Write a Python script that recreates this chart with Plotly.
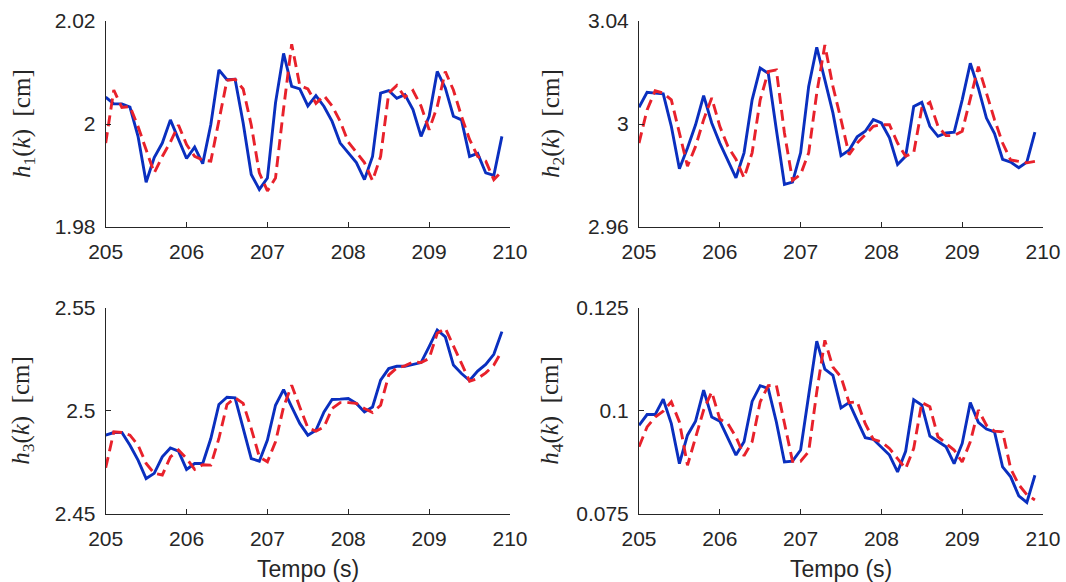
import plotly.graph_objects as go

time = [round(205 + 0.1 * i, 1) for i in range(50)]

h1_real = [2.0052, 2.0039, 2.0039, 2.0033, 1.9976, 1.9887, 1.9935, 1.9963, 2.0008, 1.9970,
           1.9933, 1.9955, 1.9923, 1.9999, 2.0105, 2.0086, 2.0087, 2.0002, 1.9902, 1.9873,
           1.9895, 2.0041, 2.0137, 2.0073, 2.0068, 2.0035, 2.0055, 2.0034, 2.0005, 1.9963,
           1.9944, 1.9925, 1.9892, 1.9937, 2.0060, 2.0065, 2.0050, 2.0057, 2.0028, 1.9976,
           2.0015, 2.0102, 2.0070, 2.0015, 2.0008, 1.9937, 1.9943, 1.9905, 1.9900, 1.9976]
h1_pred = [1.9963, 2.0066, 2.0032, 2.0034, 1.9995, 1.9950, 1.9905, 1.9937, 1.9965, 1.9998,
           1.9960, 1.9937, 1.9930, 1.9928, 2.0005, 2.0085, 2.0087, 2.0068, 1.9998, 1.9905,
           1.9870, 1.9895, 2.0030, 2.0155, 2.0075, 2.0068, 2.0040, 2.0055, 2.0035, 2.0005,
           1.9965, 1.9945, 1.9925, 1.9890, 1.9937, 2.0060, 2.0075, 2.0052, 2.0065, 2.0035,
           1.9989, 2.0034, 2.0102, 2.0066, 2.0015, 1.9970, 1.9937, 1.9928, 1.9892, 1.9908]

h2_real = [3.0065, 3.0123, 3.0120, 3.0117, 2.9991, 2.9826, 2.9907, 2.9997, 3.0110, 3.0004,
           2.9926, 2.9855, 2.9791, 2.9888, 3.0094, 3.0217, 3.0197, 2.9978, 2.9765, 2.9774,
           2.9888, 3.0146, 3.0298, 3.0171, 3.0043, 2.9877, 2.9898, 2.9950, 2.9972, 3.0017,
           3.0004, 2.9946, 2.9843, 2.9875, 3.0068, 3.0084, 2.9991, 2.9952, 2.9965, 2.9968,
           3.0094, 3.0236, 3.0139, 3.0023, 2.9963, 2.9863, 2.9852, 2.9830, 2.9852, 2.9968]
h2_pred = [2.9926, 3.0055, 3.0129, 3.0120, 3.0094, 2.9965, 2.9836, 2.9913, 3.0017, 3.0101,
           2.9991, 2.9913, 2.9863, 2.9791, 2.9888, 3.0094, 3.0204, 3.0210, 2.9965, 2.9781,
           2.9804, 2.9888, 3.0120, 3.0307, 3.0146, 3.0017, 2.9881, 2.9926, 2.9959, 2.9991,
           2.9997, 2.9997, 2.9926, 2.9875, 2.9888, 3.0062, 3.0084, 2.9991, 2.9955, 2.9955,
           2.9972, 3.0094, 3.0223, 3.0120, 3.0017, 2.9926, 2.9860, 2.9855, 2.9849, 2.9855]

h3_real = [2.4882, 2.4895, 2.4895, 2.4833, 2.4761, 2.4672, 2.4697, 2.4777, 2.4820, 2.4805,
           2.4716, 2.4745, 2.4745, 2.4866, 2.5031, 2.5066, 2.5063, 2.4914, 2.4769, 2.4756,
           2.4858, 2.5027, 2.5103, 2.5019, 2.4939, 2.4882, 2.4906, 2.4995, 2.5055, 2.5057,
           2.5060, 2.5036, 2.4995, 2.5019, 2.5149, 2.5205, 2.5216, 2.5216, 2.5225, 2.5234,
           2.5311, 2.5392, 2.5359, 2.5222, 2.5181, 2.5147, 2.5193, 2.5225, 2.5274, 2.5384]
h3_pred = [2.4724, 2.4898, 2.4895, 2.4882, 2.4834, 2.4745, 2.4697, 2.4689, 2.4777, 2.4810,
           2.4770, 2.4716, 2.4739, 2.4737, 2.4866, 2.5031, 2.5063, 2.5036, 2.4914, 2.4777,
           2.4753, 2.4850, 2.5019, 2.5124, 2.5019, 2.4918, 2.4902, 2.4922, 2.5011, 2.5040,
           2.5040, 2.5036, 2.5011, 2.4992, 2.5027, 2.5173, 2.5208, 2.5218, 2.5237, 2.5234,
           2.5254, 2.5376, 2.5400, 2.5319, 2.5230, 2.5144, 2.5157, 2.5184, 2.5222, 2.5290]

h4_real = [0.0965, 0.0991, 0.0991, 0.1028, 0.0969, 0.0872, 0.0941, 0.0975, 0.1050, 0.0985,
           0.0975, 0.0933, 0.0893, 0.0925, 0.1023, 0.1061, 0.1054, 0.0973, 0.0876, 0.0878,
           0.0905, 0.1038, 0.1169, 0.1101, 0.1086, 0.1007, 0.1020, 0.0977, 0.0935, 0.0931,
           0.0913, 0.0893, 0.0852, 0.0902, 0.1027, 0.1014, 0.0939, 0.0925, 0.0913, 0.0872,
           0.0921, 0.1020, 0.0972, 0.0956, 0.0949, 0.0864, 0.0840, 0.0794, 0.0778, 0.0844]
h4_pred = [0.0913, 0.0961, 0.0985, 0.0999, 0.1022, 0.0973, 0.0868, 0.0933, 0.1002, 0.1046,
           0.0980, 0.0969, 0.0937, 0.0891, 0.0925, 0.1022, 0.1061, 0.1062, 0.0973, 0.0878,
           0.0878, 0.0901, 0.1046, 0.1171, 0.1106, 0.1082, 0.1020, 0.1022, 0.0969, 0.0931,
           0.0925, 0.0909, 0.0884, 0.0860, 0.0909, 0.1020, 0.1010, 0.0937, 0.0921, 0.0905,
           0.0876, 0.0925, 0.1002, 0.0965, 0.0951, 0.0949, 0.0860, 0.0821, 0.0797, 0.0784]

x_ticks = [205, 206, 207, 208, 209, 210]
y_ticks = [[1.98, 2.0, 2.02], [2.96, 3.0, 3.04], [2.45, 2.5, 2.55], [0.075, 0.1, 0.125]]
y_ticktext = [["1.98", "2", "2.02"], ["2.96", "3", "3.04"], ["2.45", "2.5", "2.55"], ["0.075", "0.1", "0.125"]]
y_titles = ["<i>h</i><sub>1</sub>(<i>k</i>)  [cm]", "<i>h</i><sub>2</sub>(<i>k</i>)  [cm]",
            "<i>h</i><sub>3</sub>(<i>k</i>)  [cm]", "<i>h</i><sub>4</sub>(<i>k</i>)  [cm]"]
x_title = "Tempo (s)"

reals = [h1_real, h2_real, h3_real, h4_real]
preds = [h1_pred, h2_pred, h3_pred, h4_pred]

W, H = 1066, 582
xpix = [[105.7, 510.0], [639.0, 1043.0]]
ypix = [[21.0, 227.0], [307.7, 514.0]]
xdoms = [[a / W, b / W] for a, b in xpix]
ydoms = [[(H - b) / H, (H - a) / H] for a, b in ypix]
ytitle_x = [23, 552]
xtitle_y = 569

BLUE = "#0a2fbf"
RED = "#e8212b"
AX = "#262626"
SANS = "Liberation Sans, Arial, sans-serif"
SERIF = "Liberation Serif, DejaVu Serif, serif"

fig = go.Figure()
layout = dict(width=W, height=H, margin=dict(l=0, r=0, t=0, b=0, pad=0),
              paper_bgcolor="white", plot_bgcolor="white", showlegend=False,
              font=dict(family=SANS, size=21, color=AX))
annotations = []

for i in range(4):
    row, col = divmod(i, 2)
    xa = "x" if i == 0 else f"x{i+1}"
    ya = "y" if i == 0 else f"y{i+1}"
    fig.add_trace(go.Scatter(x=time, y=reals[i], mode="lines", xaxis=xa, yaxis=ya,
                             line=dict(color=BLUE, width=2.9)))
    fig.add_trace(go.Scatter(x=time, y=preds[i], mode="lines", xaxis=xa, yaxis=ya,
                             line=dict(color=RED, width=2.9, dash="11px,6px")))
    xkey = "xaxis" if i == 0 else f"xaxis{i+1}"
    ykey = "yaxis" if i == 0 else f"yaxis{i+1}"
    layout[xkey] = dict(domain=xdoms[col], anchor=ya, range=[205, 210], automargin=False,
                        tickvals=x_ticks, ticktext=[str(v) for v in x_ticks],
                        ticks="inside", ticklen=5, tickcolor=AX, tickwidth=1,
                        showline=True, linecolor=AX, linewidth=1, showgrid=False,
                        zeroline=False, tickfont=dict(family=SANS, size=21, color=AX),
                        ticklabelstandoff=6)
    layout[ykey] = dict(domain=ydoms[row], anchor=xa, range=[y_ticks[i][0], y_ticks[i][-1]],
                        automargin=False,
                        tickvals=y_ticks[i], ticktext=y_ticktext[i],
                        ticks="inside", ticklen=5, tickcolor=AX, tickwidth=1,
                        showline=True, linecolor=AX, linewidth=1, showgrid=False,
                        zeroline=False, tickfont=dict(family=SANS, size=21, color=AX),
                        ticklabelstandoff=5)
    annotations.append(dict(text=y_titles[i], xref="paper", yref="paper",
                            x=ytitle_x[col] / W, y=(H - (ypix[row][0] + ypix[row][1]) / 2) / H,
                            xanchor="center", yanchor="middle", textangle=-90, showarrow=False,
                            font=dict(family=SERIF, size=25, color=AX)))
    if row == 1:
        annotations.append(dict(text=x_title, xref="paper", yref="paper",
                                x=(xpix[col][0] + xpix[col][1]) / 2 / W, y=(H - xtitle_y) / H,
                                xanchor="center", yanchor="middle", showarrow=False,
                                font=dict(family=SANS, size=23, color=AX)))

layout["annotations"] = annotations
fig.update_layout(**layout)
fig.write_html("out.html", config={"displayModeBar": False},
               post_script="document.body.style.margin='0';document.body.style.padding='0';"
                           "document.body.style.overflow='hidden';")
